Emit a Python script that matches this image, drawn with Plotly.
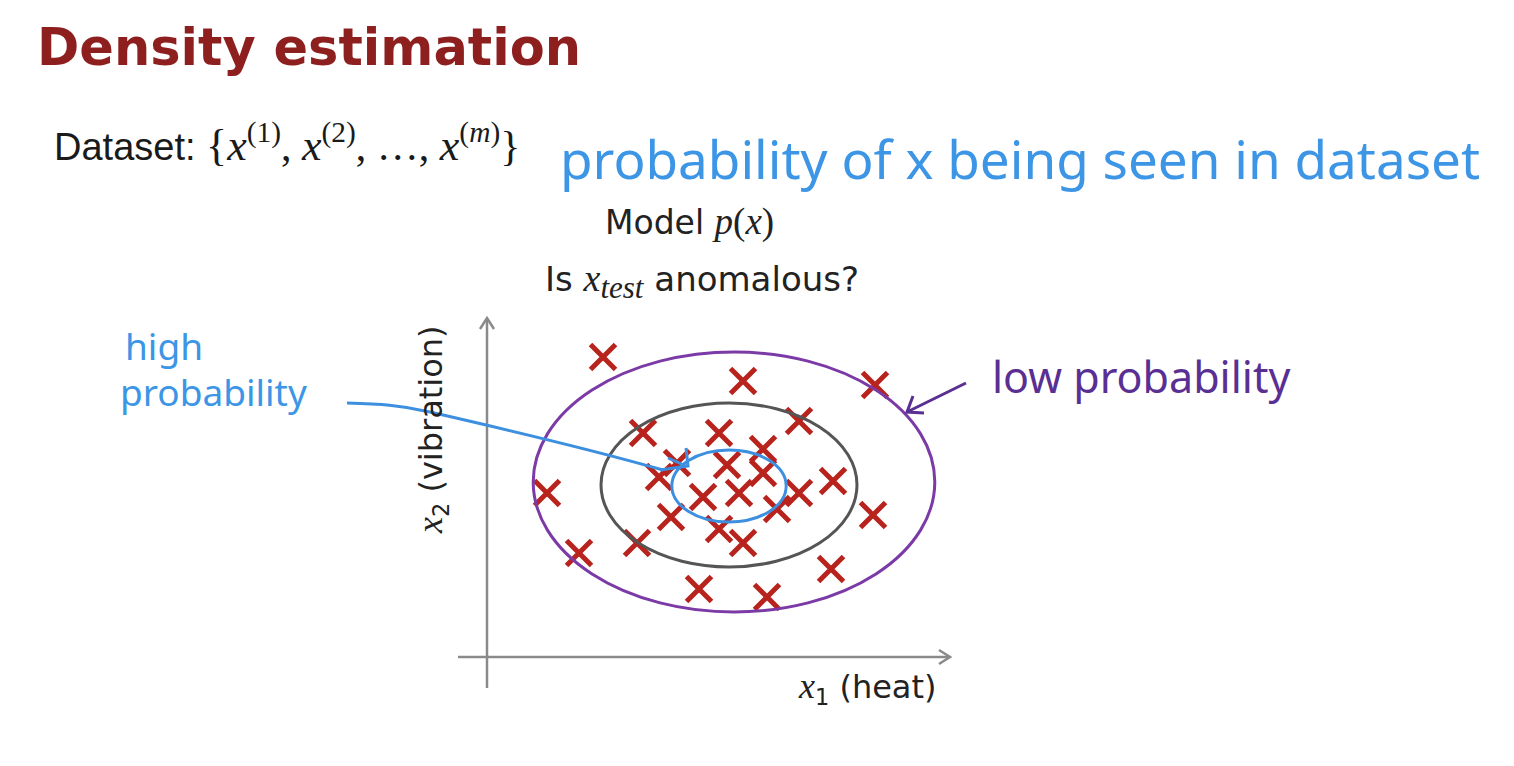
import plotly.graph_objects as go

# ---------------- data (feature units: x1 = heat, x2 = vibration) ----------------
heat = [2.9, 6.4, 9.7, 3.9, 5.8, 7.8, 6.9, 4.75, 4.3, 6.0, 6.9, 8.65, 7.8,
        6.3, 5.4, 7.25, 1.5, 9.65, 4.6, 5.8, 6.4, 3.75, 2.3, 8.6, 5.3, 7.0]
vibration = [7.5, 6.9, 6.8, 5.6, 5.6, 5.9, 5.2, 4.85, 4.5, 4.8, 4.6, 4.4, 4.1,
             4.1, 4.0, 3.7, 4.1, 3.55, 3.5, 3.2, 2.85, 2.85, 2.6, 2.2, 1.7, 1.5]

# density contours: centre x1, centre x2, half-width, half-height
contour_names = ["low", "mid", "high"]
contour_cx = [6.175, 6.05, 6.05]
contour_cy = [4.375, 4.3, 4.275]
contour_rx = [5.02, 3.2, 1.43]
contour_ry = [3.25, 2.05, 0.9]
contour_colors = ["#7b3aa6", "#555555", "#3d8fe0"]

x_range = [-0.725, 11.575]
y_range = [-0.775, 8.475]

W, H = 1514, 766
OFF = 8  # page body margin
# page-pixel box of the plotted axes
PX0, PX1 = 458, 950
PY_TOP, PY_BOT = 318, 688

fig = go.Figure()

fig.add_trace(go.Scatter(
    x=heat, y=vibration, mode="markers",
    marker=dict(symbol="x-thin-open", size=25, color="#b8231d",
                line=dict(width=5, color="#b8231d")),
    xaxis="x", yaxis="y", hoverinfo="skip", showlegend=False))

# invisible trace on the full-page axes so they render
fig.add_trace(go.Scatter(x=[100], y=[100], mode="markers", marker=dict(opacity=0),
                         xaxis="x2", yaxis="y2", hoverinfo="skip", showlegend=False))

shapes = []
for cx, cy, rx, ry, col in zip(contour_cx, contour_cy, contour_rx, contour_ry, contour_colors):
    shapes.append(dict(type="circle", xref="x", yref="y",
                       x0=cx - rx, x1=cx + rx, y0=cy - ry, y1=cy + ry,
                       line=dict(color=col, width=3)))

axis_col = "#8a8a8a"
shapes.append(dict(type="line", xref="x", yref="y", x0=x_range[0], x1=x_range[1],
                   y0=0, y1=0, line=dict(color=axis_col, width=2.5)))
shapes.append(dict(type="line", xref="x", yref="y", x0=0, x1=0,
                   y0=y_range[0], y1=y_range[1], line=dict(color=axis_col, width=2.5)))
# arrow heads (page pixels)
shapes.append(dict(type="path", xref="x2", yref="y2",
                   path="M 939 650 L 950 657 L 939 664",
                   line=dict(color=axis_col, width=2.5)))
shapes.append(dict(type="path", xref="x2", yref="y2",
                   path="M 480 329 L 487 318 L 494 329",
                   line=dict(color=axis_col, width=2.5)))
# handwritten blue pointer
shapes.append(dict(type="path", xref="x2", yref="y2",
                   path="M 347 403 C 380 404, 400 405, 430 412 C 500 428, 600 452, 663 470",
                   line=dict(color="#3d8fe0", width=3)))
shapes.append(dict(type="path", xref="x2", yref="y2",
                   path="M 660 470 L 688 466 L 686 448 M 686 466 L 668 458",
                   line=dict(color="#3d8fe0", width=3)))
# handwritten purple pointer
shapes.append(dict(type="path", xref="x2", yref="y2",
                   path="M 966 383 L 907 412 M 913 396 L 907 412 L 924 413",
                   line=dict(color="#5a2f93", width=3)))

MATH = "Liberation Serif"
SANS = "DejaVu Sans"
HAND = "Noto Sans"

def ann(text, x, y, size, color="#222222", family=SANS, xanchor="left",
        yanchor="middle", angle=0):
    return dict(text=text, x=x, y=y, xref="x2", yref="y2", showarrow=False,
                xanchor=xanchor, yanchor=yanchor, textangle=angle,
                font=dict(size=size, color=color, family=family))

def m(s, size=None):
    sz = f"font-size:{size}px;" if size else ""
    return f"<span style='font-family:{MATH};{sz}'><i>{s}</i></span>"

def serif(s, size=None):
    sz = f"font-size:{size}px;" if size else ""
    return f"<span style='font-family:{MATH};{sz}'>{s}</span>"

annotations = [
    ann("<b>Density estimation</b>", 35, 47, 51, "#8e1f1f"),
    ann("Dataset: " + serif("{", 44) +
        m("x", 44) + serif("<sup>(1)</sup>, ", 42) + m("x", 44) + serif("<sup>(2)</sup>, …, ", 42) +
        m("x", 44) + serif("<sup>(<i>m</i>)</sup>}", 42),
        52, 143, 38, "#1a1a1a", "Liberation Sans"),
    ann("probability of x being seen in dataset", 558, 158, 53, "#3d95e6", HAND),
    ann("Model " + m("p", 37) + serif("(", 37) + m("x", 37) + serif(")", 37),
        689, 222, 33, "#222222", xanchor="center"),
    ann("Is " + m("x", 38) + "<sub>" + m("test", 31) + "</sub> anomalous?",
        702, 281, 34, "#222222", xanchor="center"),
    ann("high", 123, 345, 37, "#3d95e6", HAND),
    ann("probability", 118, 391, 37, "#3d95e6", HAND),
    ann("low probability", 990, 376, 43, "#5a2f93", HAND),
    ann(m("x", 36) + "<sub>2</sub> (vibration)", 432, 430, 32, "#222222",
        xanchor="center", angle=-90),
    ann(m("x", 36) + "<sub>1</sub> (heat)", 867, 688, 32, "#222222", xanchor="center"),
]

fig.update_layout(
    width=W, height=H, margin=dict(l=0, r=0, t=0, b=0),
    paper_bgcolor="white", plot_bgcolor="rgba(0,0,0,0)",
    xaxis=dict(domain=[(PX0 - OFF) / W, (PX1 - OFF) / W], range=x_range, visible=False,
               fixedrange=True, anchor="y"),
    yaxis=dict(domain=[1 - (PY_BOT - OFF) / H, 1 - (PY_TOP - OFF) / H], range=y_range,
               visible=False, fixedrange=True, anchor="x"),
    xaxis2=dict(domain=[0, 1], range=[OFF, W + OFF], visible=False, anchor="y2",
                fixedrange=True),
    yaxis2=dict(domain=[0, 1], range=[H + OFF, OFF], visible=False, anchor="x2",
                fixedrange=True),
    shapes=shapes, annotations=annotations, showlegend=False,
)

fig.write_html("out.html", config={"displayModeBar": False})
